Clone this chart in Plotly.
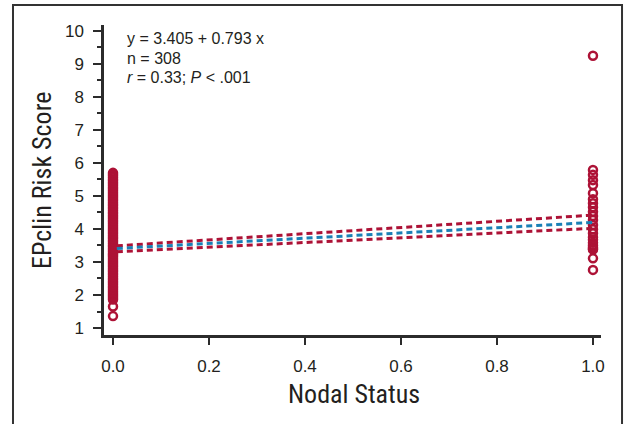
import plotly.graph_objects as go

# Data
node_neg_scores = [5.70, 5.66, 5.61, 5.56, 5.51, 5.46, 5.41, 5.36, 5.31, 5.26, 5.21, 5.16,
                   5.11, 5.06, 5.01, 4.96, 4.91, 4.86, 4.81, 4.76, 4.71, 4.66, 4.61, 4.56,
                   4.51, 4.46, 4.41, 4.36, 4.31, 4.26, 4.21, 4.16, 4.11, 4.06, 4.01, 3.96,
                   3.91, 3.86, 3.81, 3.76, 3.71, 3.66, 3.61, 3.56, 3.51, 3.46, 3.41, 3.36,
                   3.31, 3.26, 3.21, 3.16, 3.11, 3.06, 3.01, 2.96, 2.91, 2.86, 2.81, 2.76,
                   2.71, 2.66, 2.61, 2.56, 2.51, 2.46, 2.41, 2.36, 2.31, 2.26, 2.21, 2.16,
                   2.11, 2.06, 2.01, 1.96, 1.91, 1.86, 1.65, 1.36]
node_pos_scores = [9.25, 5.79, 5.64, 5.48, 5.33, 5.08, 4.90, 4.78, 4.66, 4.52, 4.39, 4.27,
                   4.12, 3.99, 3.87, 3.75, 3.67, 3.58, 3.51, 3.45, 3.40, 3.38, 3.11, 2.76]
line_x = [0.008, 1.0]
fit_y = [3.41, 4.198]
ci_upper = [3.49, 4.42]
ci_lower = [3.31, 4.02]
x_ticks = [0.0, 0.2, 0.4, 0.6, 0.8, 1.0]
x_tick_labels = ["0.0", "0.2", "0.4", "0.6", "0.8", "1.0"]
y_ticks = [1, 2, 3, 4, 5, 6, 7, 8, 9, 10]

RED = "#ad1236"
BLUE = "#1a80b6"
DARK = "#2b2b2b"

fig = go.Figure()
fig.add_trace(go.Scatter(x=[0.0] * len(node_neg_scores), y=node_neg_scores, mode="markers",
                         marker=dict(symbol="circle-open", size=8, color=RED, line=dict(width=2.5, color=RED)),
                         showlegend=False, hoverinfo="skip"))
fig.add_trace(go.Scatter(x=[1.0] * len(node_pos_scores), y=node_pos_scores, mode="markers",
                         marker=dict(symbol="circle-open", size=8, color=RED, line=dict(width=2.5, color=RED)),
                         showlegend=False, hoverinfo="skip"))
for ys, col in [(ci_upper, RED), (ci_lower, RED), (fit_y, BLUE)]:
    fig.add_trace(go.Scatter(x=line_x, y=ys, mode="lines",
                             line=dict(color=col, width=3, dash="6px,4px"),
                             showlegend=False, hoverinfo="skip"))

font_main = "Liberation Sans, Arial, sans-serif"
font_cond = "Liberation Sans Narrow, Roboto Condensed, Arial Narrow, Roboto, sans-serif"

fig.update_layout(
    width=628, height=424,
    margin=dict(l=104, r=27, t=25, b=89),
    paper_bgcolor="white", plot_bgcolor="white",
    font=dict(family=font_main, size=17, color="#231f20"),
    xaxis=dict(range=[-0.01875, 1.0167], tickvals=x_ticks, ticktext=x_tick_labels,
               showline=True, linecolor=DARK, linewidth=2.5, ticks="outside", ticklen=7,
               tickwidth=2, tickcolor=DARK, showgrid=False, zeroline=False,
               ticklabelstandoff=7, tickfont=dict(size=17)),
    yaxis=dict(range=[0.788, 10.18], tickvals=y_ticks,
               showline=True, linecolor=DARK, linewidth=2.5, ticks="outside", ticklen=8,
               tickwidth=2, tickcolor=DARK, showgrid=False, zeroline=False,
               ticklabelstandoff=6, tickfont=dict(size=17),
               minor=dict(dtick=0.5, ticks="outside", ticklen=4, tickwidth=1.5, tickcolor=DARK)),
)

# Axis titles
fig.add_annotation(text="Nodal Status", xref="paper", yref="paper", x=0.504, y=-0.19,
                   showarrow=False, xanchor="center", yanchor="middle",
                   font=dict(family=font_cond, size=26, color="#231f20"))
fig.add_annotation(text="EPclin Risk Score", xref="paper", yref="paper", x=-0.125, y=0.5,
                   textangle=-90, showarrow=False, xanchor="center", yanchor="middle",
                   font=dict(family=font_cond, size=26, color="#231f20"))

# Regression statistics
stats = ["y = 3.405 + 0.793 x", "n = 308", "<i>r</i> = 0.33; <i>P</i> < .001"]
stat_y = [0.958, 0.8935, 0.832]
for t, yy in zip(stats, stat_y):
    fig.add_annotation(text=t, xref="paper", yref="paper", x=0.042, y=yy, showarrow=False,
                       xanchor="left", yanchor="middle", font=dict(family=font_main, size=16, color="#231f20"))

# Outer frame
fig.add_shape(type="rect", xref="paper", yref="paper", x0=-0.1831, x1=1.0423, y0=-0.35, y1=1.0645,
              line=dict(color="#333333", width=2), fillcolor="rgba(0,0,0,0)", layer="below")

fig.write_html("out.html")
